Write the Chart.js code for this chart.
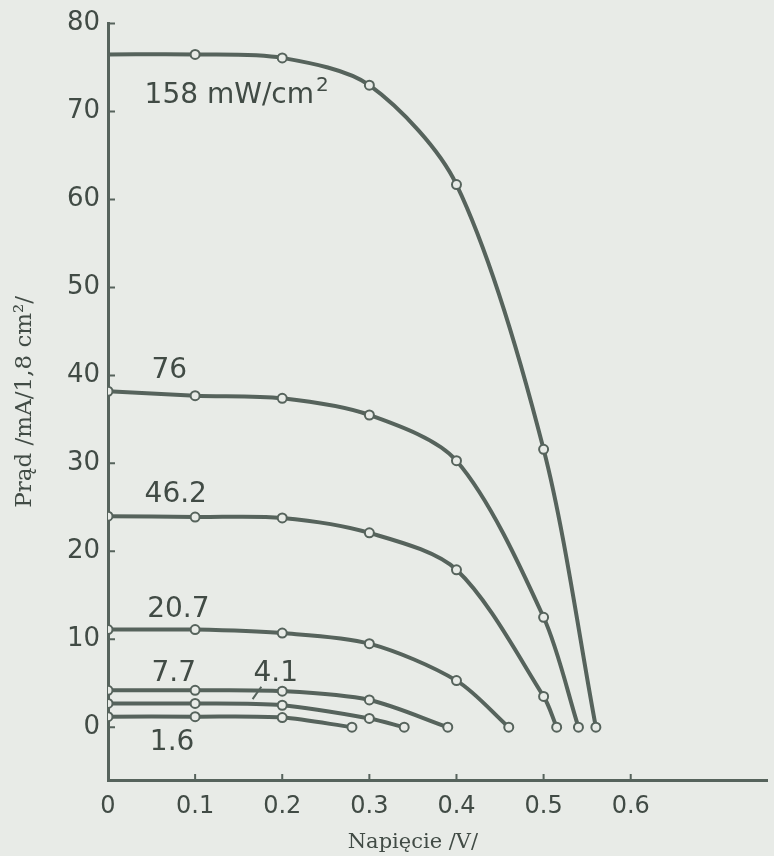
<!DOCTYPE html>
<html>
<head>
<meta charset="utf-8">
<script src="https://cdn.jsdelivr.net/npm/chart.js@4.4.0/dist/chart.umd.min.js"></script>
<style>
  html, body { margin: 0; padding: 0; background: #e8ebe7; }
</style>
</head>
<body>
<canvas id="ivChart" width="774" height="856"></canvas>
<script>
// illumination levels (curve labels)
const curveLabels = ['158 mW/cm²', '76', '46.2', '20.7', '7.7', '4.1', '1.6'];

// voltage /V/ and current /mA/1,8 cm2/
const volt158 = [0, 0.1, 0.2, 0.3, 0.4, 0.5, 0.56];
const amp158 = [76.5, 76.5, 76.1, 73.0, 61.7, 31.6, 0];
const volt76 = [0, 0.1, 0.2, 0.3, 0.4, 0.5, 0.54];
const amp76 = [38.2, 37.7, 37.4, 35.5, 30.3, 12.5, 0];
const volt46 = [0, 0.1, 0.2, 0.3, 0.4, 0.5, 0.515];
const amp46 = [24.0, 23.9, 23.8, 22.1, 17.9, 3.5, 0];
const volt20 = [0, 0.1, 0.2, 0.3, 0.4, 0.46];
const amp20 = [11.1, 11.1, 10.7, 9.5, 5.3, 0];
const volt7 = [0, 0.1, 0.2, 0.3, 0.39];
const amp7 = [4.2, 4.2, 4.1, 3.1, 0];
const volt4 = [0, 0.1, 0.2, 0.3, 0.34];
const amp4 = [2.7, 2.7, 2.5, 1.0, 0];
const volt1 = [0, 0.1, 0.2, 0.28];
const amp1 = [1.2, 1.2, 1.1, 0];

const xTicks = [0, 0.1, 0.2, 0.3, 0.4, 0.5, 0.6];
const xTickLabels = ['0', '0.1', '0.2', '0.3', '0.4', '0.5', '0.6'];
const yTicks = [0, 10, 20, 30, 40, 50, 60, 70, 80];
const yTickLabels = ['0', '10', '20', '30', '40', '50', '60', '70', '80'];

const xTitle = 'Napięcie /V/';
const yTitle = 'Prąd /mA/1,8 cm²/';

// where each curve label sits (data coords, left/baseline)
const labelAnchors = [
  {x: 0.042, y: 71.0}, {x: 0.05, y: 39.7}, {x: 0.042, y: 25.6},
  {x: 0.045, y: 12.5}, {x: 0.05, y: 5.2}, {x: 0.167, y: 5.2}, {x: 0.048, y: -2.6}
];

const paper = '#e8ebe7';
const ink = '#56635c';
const textInk = '#414b45';

function pts(xs, ys) {
  return xs.map((v, i) => ({x: v, y: ys[i]}));
}

function curve(xs, ys, firstMarker) {
  return {
    data: pts(xs, ys),
    borderColor: ink,
    borderWidth: 4,
    tension: 0.3,
    pointRadius: xs.map((v, i) => (i === 0 && !firstMarker) ? 0 : 4.5),
    pointBorderWidth: 2,
    pointBorderColor: ink,
    pointBackgroundColor: paper
  };
}

// writes "cm²" with a real raised 2, like the typeset figure
function drawLabel(ctx, text, px, py) {
  const parts = text.split('²');
  ctx.font = '28px "DejaVu Sans"';
  ctx.fillText(parts[0], px, py);
  if (parts.length > 1) {
    const w = ctx.measureText(parts[0]).width;
    ctx.font = '20px "DejaVu Sans"';
    ctx.fillText('2', px + w + 2, py - 12);
  }
}

const paperPlugin = {
  id: 'paper',
  beforeDraw(chart) {
    const ctx = chart.ctx;
    ctx.save();
    ctx.fillStyle = paper;
    ctx.fillRect(0, 0, chart.width, chart.height);
    ctx.restore();
  },
  afterDraw(chart) {
    const {ctx, scales: {x, y}} = chart;
    ctx.save();
    // tick marks point into the plot
    ctx.strokeStyle = ink;
    ctx.lineWidth = 2;
    ctx.beginPath();
    yTicks.forEach(v => {
      const py = y.getPixelForValue(v);
      ctx.moveTo(x.left, py);
      ctx.lineTo(x.left + 7, py);
    });
    xTicks.slice(1).forEach(v => {
      const px = x.getPixelForValue(v);
      ctx.moveTo(px, y.bottom);
      ctx.lineTo(px, y.bottom - 6);
    });
    // little leader from "4.1" to its curve
    ctx.moveTo(x.getPixelForValue(0.176), y.getPixelForValue(4.6));
    ctx.lineTo(x.getPixelForValue(0.166), y.getPixelForValue(3.2));
    ctx.stroke();

    ctx.fillStyle = textInk;
    ctx.textAlign = 'left';
    ctx.textBaseline = 'alphabetic';
    curveLabels.forEach((t, i) => {
      const a = labelAnchors[i];
      drawLabel(ctx, t, x.getPixelForValue(a.x), y.getPixelForValue(a.y));
    });

    ctx.font = '21px "DejaVu Serif"';
    ctx.textAlign = 'center';
    ctx.fillText(xTitle, x.getPixelForValue(0.35), y.bottom + 68);
    ctx.restore();
  }
};

new Chart(document.getElementById('ivChart').getContext('2d'), {
  type: 'line',
  data: {
    datasets: [
      curve(volt158, amp158, false),
      curve(volt76, amp76, true),
      curve(volt46, amp46, true),
      curve(volt20, amp20, true),
      curve(volt7, amp7, true),
      curve(volt4, amp4, true),
      curve(volt1, amp1, true)
    ]
  },
  options: {
    responsive: false,
    animation: false,
    layout: {padding: {top: 21, right: 0, left: 0, bottom: 0}},
    plugins: {
      legend: {display: false},
      tooltip: {enabled: false}
    },
    scales: {
      x: {
        type: 'linear',
        min: 0,
        max: 0.757,
        afterBuildTicks: scale => { scale.ticks = xTicks.map(v => ({value: v})); },
        afterFit: scale => { scale.height = 76; },
        grid: {display: false, drawTicks: false},
        border: {display: true, color: ink, width: 3},
        ticks: {
          padding: 12,
          color: textInk,
          font: {family: 'DejaVu Sans', size: 24},
          maxRotation: 0,
          callback: (value, index) => xTickLabels[index]
        }
      },
      y: {
        type: 'linear',
        min: -6,
        max: 80,
        afterBuildTicks: scale => { scale.ticks = yTicks.map(v => ({value: v})); },
        afterFit: scale => { scale.width = 108; },
        grid: {display: false, drawTicks: false},
        border: {display: true, color: ink, width: 3},
        title: {
          display: true,
          text: yTitle,
          color: textInk,
          font: {family: 'DejaVu Serif', size: 23},
          padding: {top: 11, bottom: 0}
        },
        ticks: {
          padding: 8,
          color: textInk,
          font: {family: 'DejaVu Sans', size: 26},
          callback: (value, index) => yTickLabels[index]
        }
      }
    }
  },
  plugins: [paperPlugin]
});
</script>
</body>
</html>
